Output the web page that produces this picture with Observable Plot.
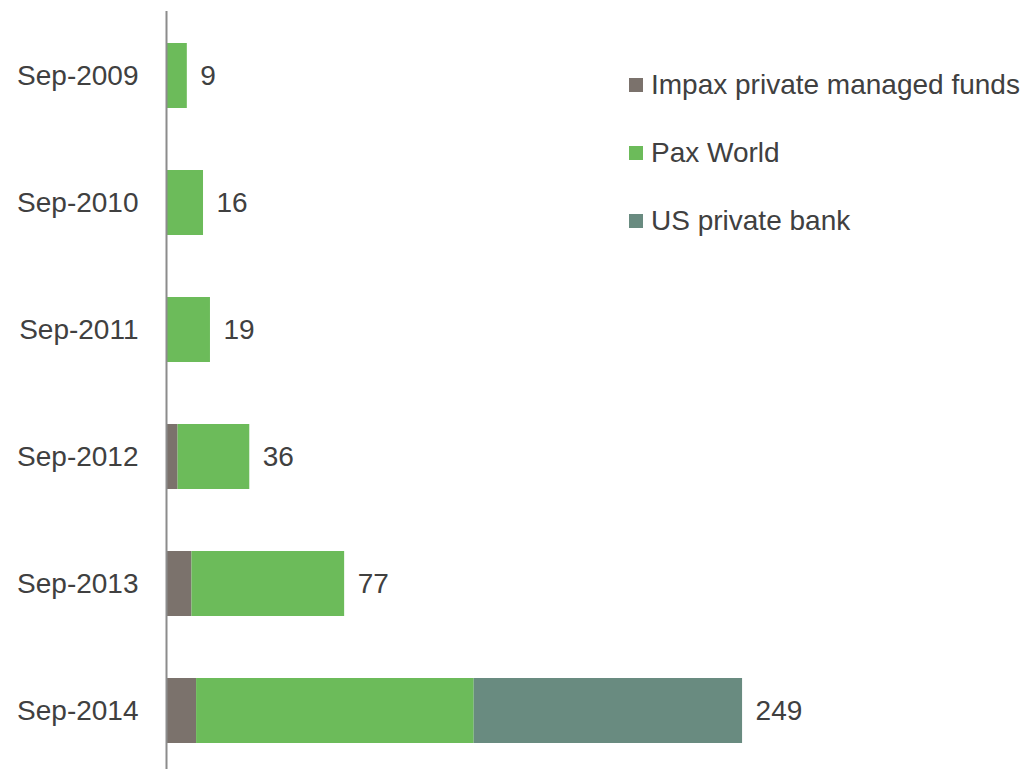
<!DOCTYPE html>
<html>
<head>
<meta charset="utf-8">
<script src="https://cdn.jsdelivr.net/npm/d3@7"></script>
<script src="https://cdn.jsdelivr.net/npm/@observablehq/plot@0.6"></script>
<style>
  html, body { margin: 0; padding: 0; background: #fff; overflow: hidden; }
  #wrap { position: relative; width: 1022px; height: 769px; }
  #legend { position: absolute; left: 629px; top: 65px; font-family: "Liberation Sans", Arial, sans-serif; font-size: 28px; color: #404040; }
  #legend .item { display: flex; align-items: center; height: 40px; margin-bottom: 28px; white-space: nowrap; }
  #legend .sw { width: 14px; height: 14px; margin-right: 8px; flex: none; }
</style>
</head>
<body>
<div id="wrap"><div id="chart"></div><div id="legend"></div></div>
<script>
const categories = ["Sep-2009", "Sep-2010", "Sep-2011", "Sep-2012", "Sep-2013", "Sep-2014"];
const seriesNames = ["Impax private managed funds", "Pax World", "US private bank"];
const seriesColors = ["#7b726c", "#6cbb5a", "#698b80"];
const impax = [0, 0, 0, 5, 11, 13];
const paxWorld = [9, 16, 19, 31, 66, 120];
const usBank = [0, 0, 0, 0, 0, 116];
const totals = [9, 16, 19, 36, 77, 249];

const seriesValues = [impax, paxWorld, usBank];
const rows = [];
categories.forEach((c, i) => {
  seriesNames.forEach((s, j) => {
    const v = seriesValues[j][i];
    if (v > 0) rows.push({ category: c, series: s, value: v });
  });
});
const labelRows = categories.map((c, i) => ({ category: c, total: totals[i] }));

const chart = Plot.plot({
  width: 1022,
  height: 775,
  marginTop: 11,
  marginBottom: 0,
  marginLeft: 166,
  marginRight: 0,
  style: { fontFamily: "'Liberation Sans', Arial, sans-serif", fontSize: "28px", color: "#404040", background: "#fff" },
  x: { domain: [0, 370], axis: null },
  y: { domain: categories, paddingInner: 0.49, paddingOuter: 0.245, label: null },
  color: { domain: seriesNames, range: seriesColors },
  marks: [
    Plot.barX(rows, { x: "value", y: "category", fill: "series" }),
    Plot.text(labelRows, { x: "total", y: "category", text: d => String(d.total), textAnchor: "start", dx: 13, fill: "#404040", fontSize: 28 }),
    Plot.ruleX([0], { stroke: "#8c8c8c", strokeWidth: 2 }),
    Plot.axisY({ tickSize: 0, tickPadding: 28, fontSize: 28, fill: "#404040", label: null })
  ]
});
document.getElementById("chart").appendChild(chart);

const legend = document.getElementById("legend");
seriesNames.forEach((s, i) => {
  const item = document.createElement("div");
  item.className = "item";
  const sw = document.createElement("span");
  sw.className = "sw";
  sw.style.background = seriesColors[i];
  const t = document.createElement("span");
  t.textContent = s;
  item.appendChild(sw);
  item.appendChild(t);
  legend.appendChild(item);
});
</script>
</body>
</html>
